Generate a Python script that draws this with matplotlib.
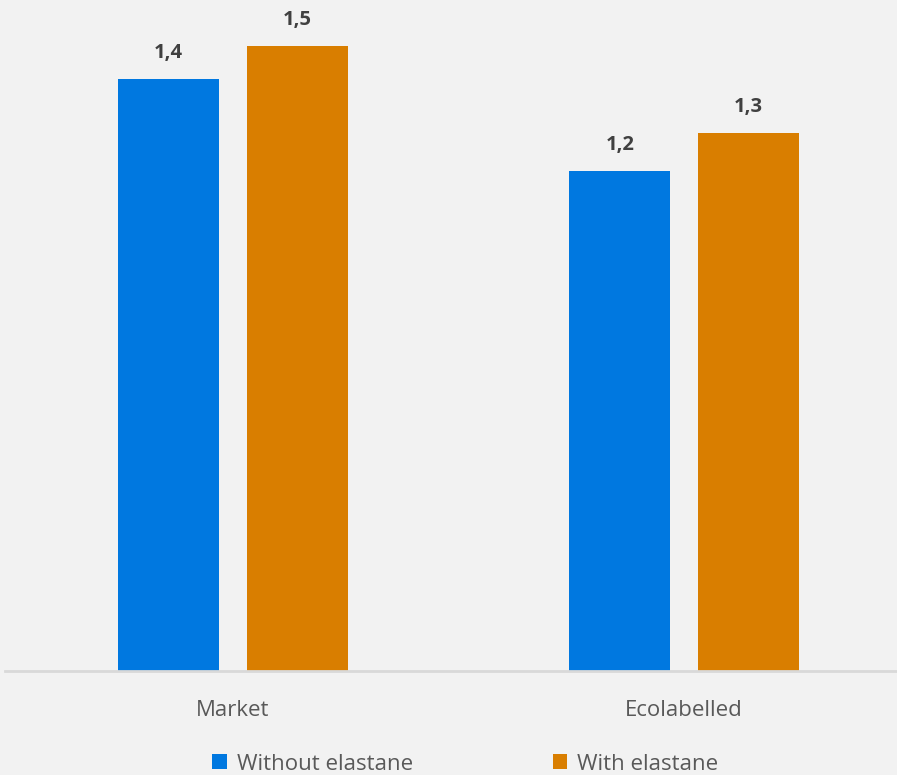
import numpy as np
import matplotlib.pyplot as plt
from matplotlib.patches import Patch

# Chart data
categories = ["Market", "Ecolabelled"]
series_names = ["Without elastane", "With elastane"]
without_elastane = [1.42, 1.20]
with_elastane = [1.50, 1.29]

bg = "#F2F2F2"
colors = ["#0078E0", "#D97E00"]

plt.rcParams['font.family'] = ['Open Sans', 'DejaVu Sans']

fig = plt.figure(figsize=(8.97, 7.75), dpi=100, facecolor=bg)
ax = fig.add_axes([5 / 897, 1 - 671 / 775, 892 / 897, 667 / 775])
ax.set_facecolor(bg)

x = np.arange(len(categories))
width = 0.224
offset = 0.1425

for vals, off, col in [(without_elastane, -offset, colors[0]), (with_elastane, offset, colors[1])]:
    bars = ax.bar(x + off, vals, width=width, color=col)
    for b, v in zip(bars, vals):
        ax.text(b.get_x() + b.get_width() / 2, v + 0.062, f"{v:.1f}".replace(".", ","),
                ha="center", va="center", fontsize=14.5, fontweight="bold", color="#404040")

ax.set_xlim(-0.5055, 1.472)
ax.set_ylim(0, 1.6)
ax.set_yticks([])
ax.set_xticks(x)
ax.set_xticklabels(categories, fontsize=16, color="#595959")
ax.tick_params(axis="x", length=0, pad=21)
for s in ["top", "right", "left"]:
    ax.spines[s].set_visible(False)
ax.spines["bottom"].set_color("#D9D9D9")
ax.spines["bottom"].set_linewidth(2)

handles = [Patch(facecolor=c, label=n) for c, n in zip(colors, series_names)]
fig.legend(handles=handles, loc="center", bbox_to_anchor=(0.519, 1 - 764 / 775), ncol=2,
           frameon=False, fontsize=16, labelcolor="#595959", handlelength=0.65, handleheight=0.65,
           handletextpad=0.45, columnspacing=6.3)

plt.savefig("out.png", dpi=100, facecolor=bg)
